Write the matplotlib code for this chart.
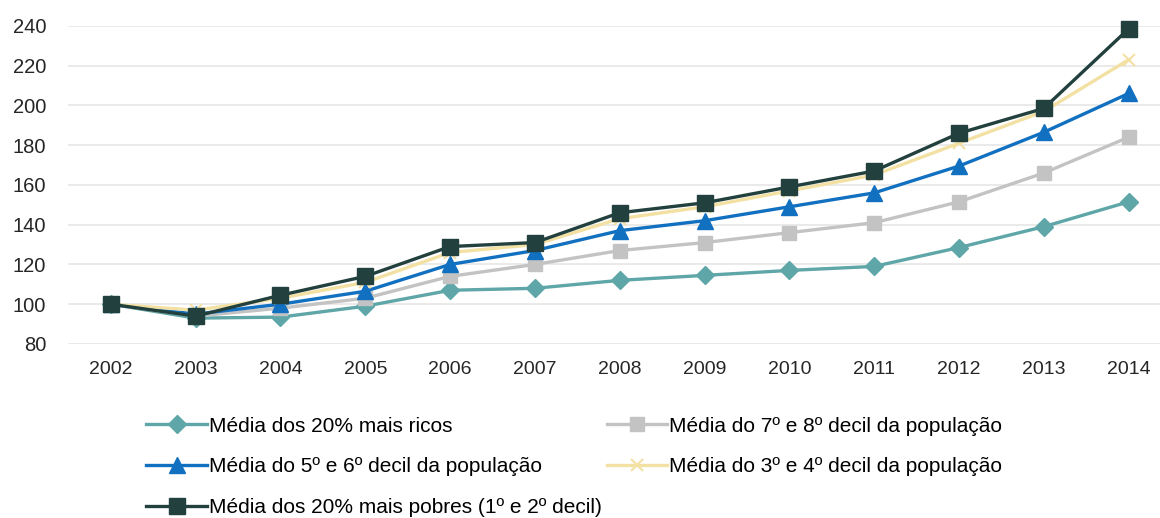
import matplotlib.pyplot as plt

# anos e índices (2002 = 100)
anos = [2002, 2003, 2004, 2005, 2006, 2007, 2008, 2009, 2010, 2011, 2012, 2013, 2014]
ricos = [100, 93, 93.5, 99, 107, 108, 112, 114.5, 117, 119, 128.5, 139, 151.5]
decil_7_8 = [100, 94, 98, 103, 114, 120, 127, 131, 136, 141, 151.5, 166, 184]
decil_5_6 = [100, 95, 100, 106.5, 120, 127, 137, 142, 149, 156, 169.5, 186.5, 206]
decil_3_4 = [100, 97, 103, 111, 126, 130, 143, 149, 157, 165, 181, 197, 223]
pobres = [100, 94, 104.5, 114, 129, 131, 146, 151, 159, 167, 186, 198.5, 238.5]

labels = ['Média dos 20% mais ricos',
          'Média do 5º e 6º decil da população',
          'Média dos 20% mais pobres (1º e 2º decil)',
          'Média do 7º e 8º decil da população',
          'Média do 3º e 4º decil da população']

plt.rcParams['font.family'] = ['Liberation Sans', 'DejaVu Sans']

fig = plt.figure(figsize=(11.6, 5.18), dpi=100)
ax = fig.add_axes([0.059, 0.336, 0.941, 0.614])

l1, = ax.plot(anos, ricos, color='#5fa6a8', linewidth=2.4, marker='D', markersize=9, zorder=3)
l2, = ax.plot(anos, decil_7_8, color='#c3c3c3', linewidth=2.4, marker='s', markersize=10, zorder=3)
l3, = ax.plot(anos, decil_5_6, color='#1270c0', linewidth=2.4, marker='^', markersize=11, zorder=4)
l4, = ax.plot(anos, decil_3_4, color='#f3e0a3', linewidth=2.4, marker='x', markersize=9,
              markeredgewidth=1.5, zorder=4)
l5, = ax.plot(anos, pobres, color='#22403d', linewidth=2.4, marker='s', markersize=12, zorder=5)
for l in (l1, l2, l3, l4, l5):
    l.set_clip_on(False)

ax.set_xlim(2001.5, 2014.37)
ax.set_ylim(80, 240)
ax.set_yticks(range(80, 241, 20))
ax.set_xticks(anos)
ax.set_xticklabels([str(a) for a in anos], fontsize=14, color='#262626')
ax.tick_params(axis='y', labelsize=14.5, labelcolor='#262626', length=0, pad=16)
ax.tick_params(axis='x', length=0, pad=12)
ax.grid(axis='y', color='#e6e6e6', linewidth=1.2)
ax.set_axisbelow(True)
for s in ax.spines.values():
    s.set_visible(False)

fig.legend([l1, l3, l5, l2, l4], labels, ncol=2, loc='upper left',
           bbox_to_anchor=(0.11, 0.232), frameon=False, fontsize=15,
           handlelength=2.9, labelspacing=1.05, columnspacing=0.25, handletextpad=0.1)

plt.savefig('out.png', dpi=100)
